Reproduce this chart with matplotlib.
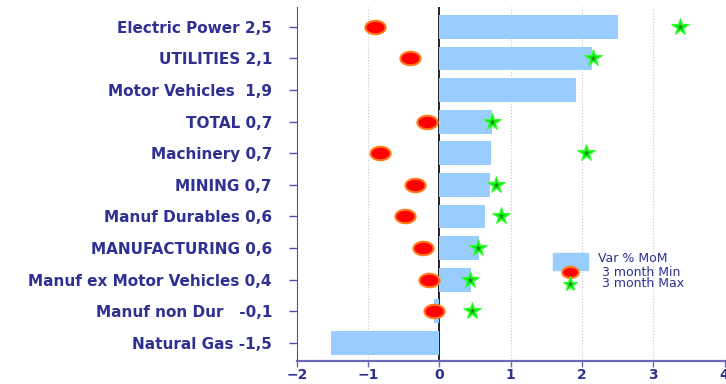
import numpy as np
import matplotlib.pyplot as plt
from matplotlib.path import Path
from matplotlib.patches import Rectangle

# monthly change, % MoM, with 3-month min / max
names = ["Electric Power", "UTILITIES", "Motor Vehicles ", "TOTAL", "Machinery",
         "MINING", "Manuf Durables", "MANUFACTURING", "Manuf ex Motor Vehicles",
         "Manuf non Dur  ", "Natural Gas"]
mom = [2.51, 2.14, 1.92, 0.74, 0.72, 0.71, 0.64, 0.56, 0.44, -0.07, -1.52]
min3 = [-0.91, -0.42, np.nan, -0.18, -0.83, -0.35, -0.48, -0.23, -0.14, -0.08, np.nan]
max3 = [3.37, 2.16, np.nan, 0.74, 2.05, 0.79, 0.86, 0.54, 0.43, 0.46, np.nan]

navy = "#2e3192"
bar_col = "#99ccff"
plt.rcParams["font.family"] = "DejaVu Sans"

# flattened circle for the min markers
t = np.linspace(0, 2 * np.pi, 60)
ellipse = Path(np.column_stack([1.5 * np.cos(t), np.sin(t)]), closed=True)

labels = [f"{n} {v:.1f}".replace(".", ",") for n, v in zip(names, mom)]
y = np.arange(len(names))

fig = plt.figure(figsize=(7.26, 3.84), dpi=100)
ax = fig.add_axes([0.409, 0.060, 0.589, 0.922])

ax.barh(y, mom, height=0.75, color=bar_col, zorder=2)
ax.axvline(0, color="black", lw=1.2, zorder=1)
for gx in [-1, 1, 2, 3, 4]:
    ax.axvline(gx, color="#c8c8c8", lw=0.8, ls=":", zorder=0)

ax.plot(min3, y, ls="none", marker=ellipse, ms=14.5, mfc="#ff0000",
        mec="#ff7a1a", mew=1.5, zorder=4)
ax.plot(max3, y, ls="none", marker="*", ms=13, mfc="#11ee11",
        mec="#33ff33", mew=0.8, zorder=4)
ax.plot(max3, y, ls="none", marker="*", ms=5, mfc="#118811",
        mec="none", zorder=5)

ax.set_xlim(-2, 4)
ax.set_ylim(len(names) - 0.43, -0.63)
ax.set_xticks(range(-2, 5))
ax.set_yticks(y)
ax.set_yticklabels(labels)

for lab in ax.get_yticklabels():
    lab.set_fontweight("bold")
    lab.set_fontsize(11)
    lab.set_color(navy)
for lab in ax.get_xticklabels():
    lab.set_fontweight("bold")
    lab.set_fontsize(10)
    lab.set_color(navy)

ax.spines["top"].set_visible(False)
ax.spines["right"].set_visible(False)
ax.spines["left"].set_color("#5050a8")
ax.spines["bottom"].set_color("#6a6ab8")
ax.spines["bottom"].set_linewidth(1.6)
ax.tick_params(axis="y", length=6, width=1, color="#5050a8", pad=12)
ax.tick_params(axis="x", length=4, width=1, color="#6a6ab8", pad=1)

# legend drawn in axes fraction
ax.add_patch(Rectangle((0.598, 0.257), 0.082, 0.048, transform=ax.transAxes,
                       color=bar_col, zorder=3, clip_on=False))
ax.plot([0.638], [0.251], transform=ax.transAxes, marker=ellipse, ms=12,
        mfc="#ff0000", mec="#ff7a1a", mew=1.5, zorder=4)
ax.plot([0.638], [0.218], transform=ax.transAxes, marker="*", ms=11,
        mfc="#11ee11", mec="#33ff33", mew=0.8, zorder=4)
ax.plot([0.638], [0.218], transform=ax.transAxes, marker="*", ms=4,
        mfc="#118811", mec="none", zorder=5)
for ty, txt in [(0.288, "Var % MoM"), (0.251, " 3 month Min"), (0.218, " 3 month Max")]:
    ax.text(0.703, ty, txt, transform=ax.transAxes, va="center", ha="left",
            fontsize=9, color=navy)

fig.savefig("out.png", dpi=100)
